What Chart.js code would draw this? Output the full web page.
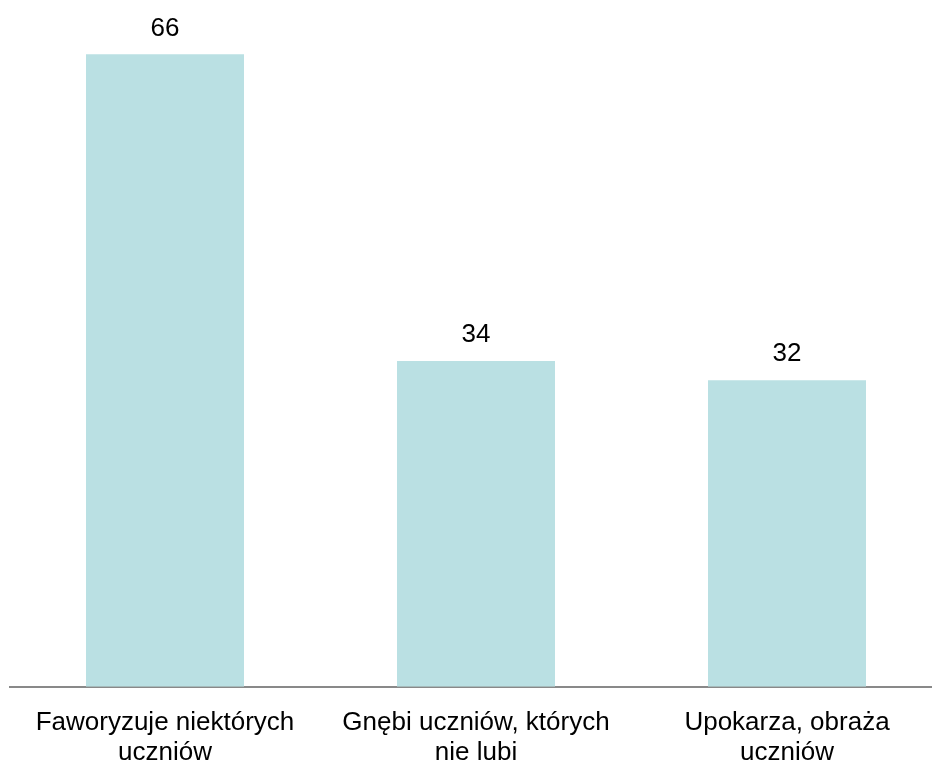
<!DOCTYPE html>
<html>
<head>
<meta charset="utf-8">
<script src="https://cdn.jsdelivr.net/npm/chart.js@4.4.1/dist/chart.umd.min.js"></script>
<style>
  html, body { margin: 0; padding: 0; background: #fff; overflow: hidden; }
  #wrap { position: absolute; left: 0; top: 0; width: 952px; height: 781px; }
</style>
</head>
<body>
<div id="wrap"><canvas id="barChart"></canvas></div>
<script>
const categories = [
    ['Faworyzuje niektórych', 'uczniów'],
    ['Gnębi uczniów, których', 'nie lubi'],
    ['Upokarza, obraża', 'uczniów']
];
const values = [66, 34, 32];
const yMax = 70;

// draws the number above each bar
const valueLabels = {
    id: 'valueLabels',
    afterDatasetsDraw(chart) 
    {
        const ctx = chart.ctx;
        const meta = chart.getDatasetMeta(0);
        ctx.save();
        ctx.font = '26px "Liberation Sans", Arial, sans-serif';
        ctx.fillStyle = '#000';
        ctx.textAlign = 'center';
        ctx.textBaseline = 'middle';
        meta.data.forEach((bar, i) => {
            ctx.fillText(values[i], bar.x, bar.y - 26);
        });
        ctx.restore();
    }
};

const ctx = document.getElementById('barChart').getContext('2d');

new Chart(ctx, {
    type: 'bar',
    data: {
        labels: categories,
        datasets: [{
            data: values,
            backgroundColor: '#bae0e3',
            borderWidth: 0,
            categoryPercentage: 1,
            barPercentage: 0.508
        }]
    },
    options: {
        responsive: true,
        maintainAspectRatio: false,
        animation: false,
        layout: { padding: { left: 9.5, right: 9.5, top: 16, bottom: 0 } },
        plugins: {
            legend: { display: false },
            tooltip: { enabled: false }
        },
        scales: {
            x: {
                grid: { display: false },
                border: { display: true, color: '#898989', width: 2 },
                ticks: {
                    color: '#000',
                    padding: 14,
                    maxRotation: 0,
                    autoSkip: false,
                    font: { family: '"Liberation Sans", Arial, sans-serif', size: 26, lineHeight: 1.12 }
                }
            },
            y: {
                display: false,
                min: 0,
                max: yMax
            }
        }
    },
    plugins: [valueLabels]
});
</script>
</body>
</html>
